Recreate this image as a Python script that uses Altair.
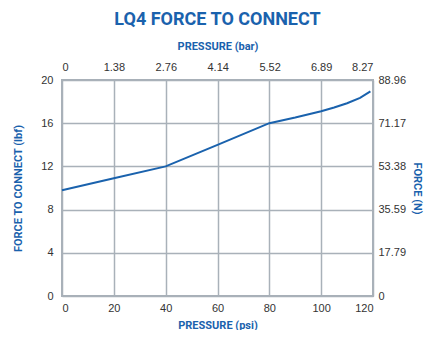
import altair as alt
import pandas as pd

psi = [0, 20, 40, 60, 80, 90, 100, 105, 110, 115, 119]
lbf = [9.8, 10.9, 12.0, 14.0, 16.0, 16.52, 17.1, 17.45, 17.85, 18.35, 18.95]
psi_ticks = [0, 20, 40, 60, 80, 100, 120]
lbf_ticks = [0, 4, 8, 12, 16, 20]
bar_ticks = [0, 1.38, 2.76, 4.14, 5.52, 6.89, 8.27]
n_ticks = [0, 17.79, 35.59, 53.38, 71.17, 88.96]

BLUE = "#1a62ad"
GRID = "#a9b1b9"
TXT = "#333333"
COND = "Roboto, Liberation Sans, sans-serif"
LBL = "Liberation Sans, Arial, sans-serif"

df = pd.DataFrame({"psi": psi, "lbf": lbf})
sec = pd.DataFrame({"bar": [bar_ticks[0], bar_ticks[-1]], "N": [n_ticks[0], n_ticks[-1]]})

axis_common = dict(
    labelFont=LBL, labelFontSize=11, labelColor=TXT, ticks=False, domain=False,
    titleFont=COND, titleFontSize=11, titleColor=BLUE, titleFontWeight="bold",
)

main = alt.Chart(df).mark_line(color=BLUE, strokeWidth=2).encode(
    x=alt.X("psi:Q", scale=alt.Scale(domain=[0, 120], nice=False),
            axis=alt.Axis(title="PRESSURE (psi)", values=psi_ticks, orient="bottom",
                          grid=True, gridColor=GRID, gridWidth=1.5, gridOpacity=1,
                          labelPadding=6, titlePadding=6, **axis_common)),
    y=alt.Y("lbf:Q", scale=alt.Scale(domain=[0, 20], nice=False),
            axis=alt.Axis(title="FORCE TO CONNECT (lbf)", values=lbf_ticks, orient="left",
                          grid=True, gridColor=GRID, gridWidth=1.5, gridOpacity=1,
                          labelPadding=9, titlePadding=17, **axis_common)),
)

hidden = alt.Chart(sec).mark_point(opacity=0).encode(
    x=alt.X("bar:Q", scale=alt.Scale(domain=[bar_ticks[0], bar_ticks[-1]], nice=False),
            axis=alt.Axis(title="PRESSURE (bar)", values=bar_ticks, orient="top", grid=False,
                          labelExpr="datum.value == 0 ? '0' : format(datum.value, '.2f')",
                          labelPadding=8, titlePadding=10, **axis_common)),
    y=alt.Y("N:Q", scale=alt.Scale(domain=[n_ticks[0], n_ticks[-1]], nice=False),
            axis=alt.Axis(title="FORCE (N)", values=n_ticks, orient="right", grid=False,
                          labelExpr="datum.value == 0 ? '0' : format(datum.value, '.2f')",
                          labelPadding=5, titlePadding=6, **axis_common)),
)

chart = alt.layer(hidden, main).resolve_scale(x="independent", y="independent").properties(
    width=311, height=216,
    title=alt.Title("LQ4 FORCE TO CONNECT", font=COND, fontSize=18, fontWeight="bold",
                    color=BLUE, anchor="middle", offset=11),
    autosize=alt.AutoSizeParams(type="none"),
    padding={"left": 54, "top": 72, "right": 60, "bottom": 34},
).configure_view(stroke=GRID, strokeWidth=2)

chart.save("out.html", embed_options={"renderer": "svg", "actions": False})
